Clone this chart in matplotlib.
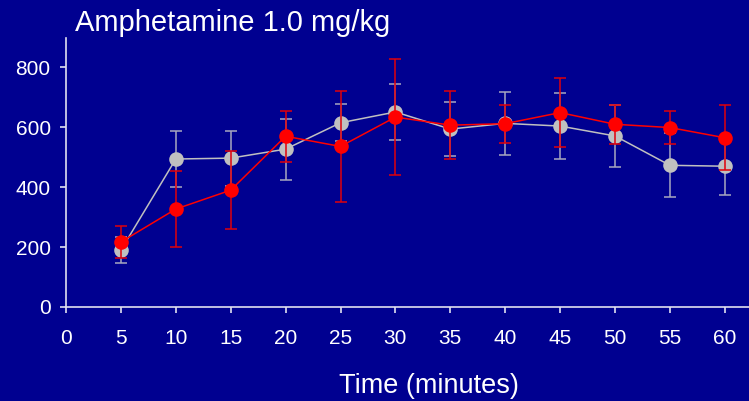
import matplotlib
matplotlib.use("Agg")
import matplotlib.pyplot as plt

times = [5, 10, 15, 20, 25, 30, 35, 40, 45, 50, 55, 60]
gray_vals = [190, 494, 497, 527, 615, 651, 594, 613, 604, 571, 473, 470]
gray_err = [43, 95, 92, 102, 62, 92, 90, 106, 110, 102, 107, 95]
red_vals = [217, 327, 390, 570, 536, 634, 607, 612, 649, 610, 599, 565]
red_err = [54, 127, 130, 85, 186, 193, 113, 64, 115, 65, 56, 108]
xticks = [0, 5, 10, 15, 20, 25, 30, 35, 40, 45, 50, 55, 60]
yticks = [0, 200, 400, 600, 800]

plt.rcParams['font.family'] = ['Liberation Sans', 'DejaVu Sans']
bg = "#000090"
fig = plt.figure(figsize=(7.49, 4.01), dpi=100, facecolor=bg)
ax = fig.add_axes([66/749, 1-307/401, 1-66/749, (307-38)/401])
ax.set_facecolor(bg)

for vals, err, col, ecol, z in [(gray_vals, gray_err, "#c0c0c0", "#a8a8c0", 2),
                                (red_vals, red_err, "#ff0000", "#e0000a", 3)]:
    ax.errorbar(times, vals, yerr=err, fmt="none", ecolor=ecol,
                elinewidth=1.1, capsize=4, capthick=1.1, zorder=z)
    ax.plot(times, vals, color=col, lw=1.1, marker="o", markersize=10.5,
            markeredgewidth=0, zorder=z + 0.5)

ax.set_xlim(0, 62.2)
ax.set_ylim(0, 898)
ax.set_xticks(xticks)
ax.set_yticks(yticks)
for s in ["top", "right"]:
    ax.spines[s].set_visible(False)
for s in ["left", "bottom"]:
    ax.spines[s].set_color("#e0e0f0")
    ax.spines[s].set_linewidth(1.2)
ax.tick_params(colors="#e0e0f0", labelcolor="white", labelsize=15, length=4, width=1.2)
ax.tick_params(axis="x", pad=12)
ax.tick_params(axis="y", pad=7)

fig.text(75/749, 1-31/401, "Amphetamine 1.0 mg/kg", color="white", fontsize=21,
         ha="left", va="baseline")
fig.text(429/749, 1-393/401, "Time (minutes)", color="white", fontsize=19.5,
         ha="center", va="baseline")

fig.savefig("out.png", dpi=100, facecolor=bg)
